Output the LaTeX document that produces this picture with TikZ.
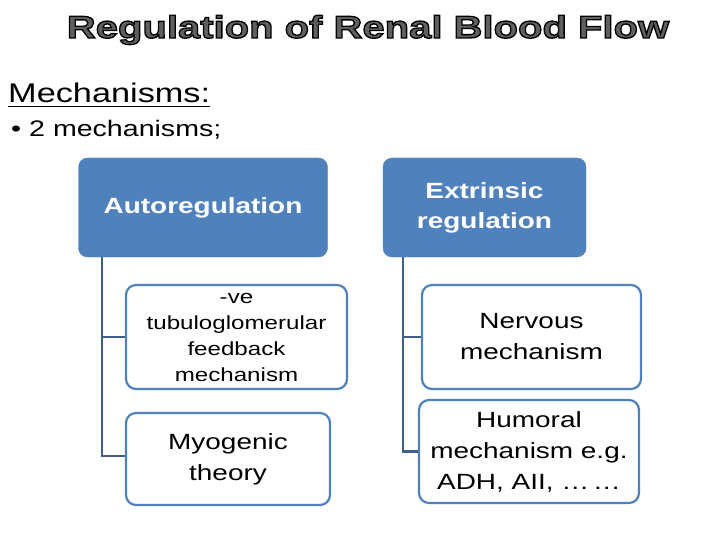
\documentclass[tikz,border=0pt]{standalone}
\usepackage{fontspec}
\setmainfont{Liberation Sans}[FakeStretch=1.27]
\usetikzlibrary{positioning}
\definecolor{boxblue}{RGB}{79,129,189}
\definecolor{linkblue}{RGB}{63,94,138}
\definecolor{titlegray}{RGB}{95,95,95}
% outlined title text (fill + stroke)
\newcommand{\outlined}[1]{{\color{titlegray}\special{pdf:literal direct 2 Tr 1.3 w 0 G}#1\special{pdf:literal direct 0 Tr}}}

\begin{document}
\begin{tikzpicture}[x=1pt, y=-1pt,
% Define custom styles for the boxes and the branches
    parentbox/.style={
        draw=boxblue,
        fill=boxblue,
        rounded corners=9pt,
        text=white,
        align=center,
        font=\bfseries\fontsize{22}{30}\selectfont
        },
    childbox/.style={
        draw=boxblue,
        fill=white,
        line width=2.2pt,
        rounded corners=10pt,
        align=center,
        font=\fontsize{22}{31}\selectfont
        },
    branch/.style={draw=linkblue, line width=2.2pt}
]
\useasboundingbox (0,0) rectangle (720,540);

\node[anchor=base, font=\bfseries\fontsize{31.5}{36}\selectfont] (title) at (368,38) {\outlined{Regulation of Renal Blood Flow}};
\node[anchor=base west, inner sep=0pt, font=\fontsize{27}{32}\selectfont] (mech) at (8,103) {Mechanisms:};
\draw[line width=1.8pt] ([yshift=-3.5pt]mech.base west) -- ([yshift=-3.5pt]mech.base east);
\node[anchor=base west, inner sep=0pt, font=\fontsize{22.5}{26}\selectfont] (two) at (11,137) {•\hspace{8pt}2 mechanisms;};

\node[parentbox, minimum width=249pt, minimum height=99pt] (auto) at (203,207.5) {Autoregulation};
\node[parentbox, minimum width=203pt, minimum height=99pt] (extr) at (484.5,207.5) {Extrinsic\\regulation};

\coordinate (a0) at ([xshift=23.5pt]auto.south west);
\coordinate (e0) at ([xshift=20pt]extr.south west);

\node[childbox, minimum width=221pt, minimum height=104pt, font=\fontsize{19}{26}\selectfont] (fb) at (236.5,337) {-ve\\tubuloglomerular\\feedback\\mechanism};
\node[childbox, minimum width=204pt, minimum height=92pt] (myo) at (228,459) {Myogenic\\theory};
\node[childbox, minimum width=219pt, minimum height=104pt] (nerv) at (531.5,337) {Nervous\\mechanism};
\node[childbox, minimum width=220pt, minimum height=103pt] (hum) at (529,451.5) {Humoral\\mechanism e.g.\\ADH, AII, …\,…};

\path[branch] (a0) |- (fb.west);
\path[branch] (a0) |- ([yshift=3pt]myo.west);
\path[branch] (e0) |- (nerv.west);
\path[branch] (e0) |- (hum.west);

\end{tikzpicture}
\end{document}
